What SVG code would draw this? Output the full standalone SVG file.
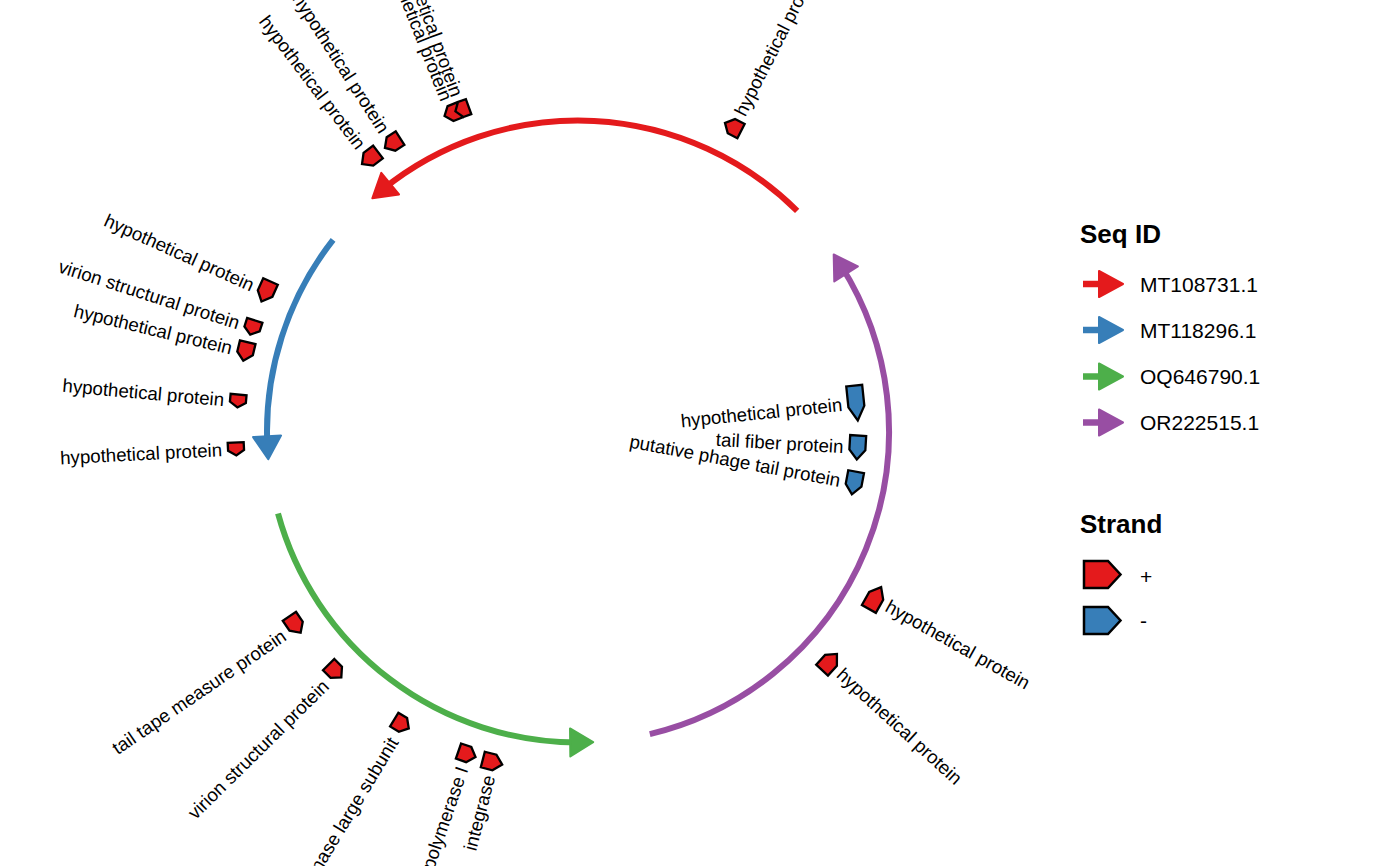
<svg xmlns="http://www.w3.org/2000/svg" width="1400" height="866" viewBox="0 0 1400 866">
<style>
.lbl{font-family:"Liberation Sans",Arial,sans-serif;font-size:18.7px;fill:#000;dominant-baseline:central}
.end{text-anchor:end}
.plus{fill:#E41A1C;stroke:#000;stroke-width:2.3;stroke-linejoin:miter}
.minus{fill:#377EB8;stroke:#000;stroke-width:2.3;stroke-linejoin:miter}
.arc{fill:none;stroke-width:6;stroke-linecap:butt}
.lt{font-family:"Liberation Sans",Arial,sans-serif;font-size:21px;fill:#000}
.ttl{font-family:"Liberation Sans",Arial,sans-serif;font-size:26px;font-weight:bold;fill:#000}
</style>
<rect width="1400" height="866" fill="#fff"/>
<g id="connectors">
  <g id="seq-MT108731">
    <path class="arc" stroke="#E41A1C" d="M797.14,210.82 A311,311 0 0 0 382.70,189.47"/>
    <polygon points="372.33,198.22 399.03,194.46 381.29,172.80" fill="#E41A1C" stroke="#E41A1C" stroke-width="2" stroke-linejoin="round"/>
  </g>
  <g id="seq-MT118296">
    <path class="arc" stroke="#377EB8" d="M333.10,239.82 A311,311 0 0 0 267.32,445.61"/>
    <polygon points="268.25,459.31 281.02,435.59 253.06,437.07" fill="#377EB8" stroke="#377EB8" stroke-width="2" stroke-linejoin="round"/>
  </g>
  <g id="seq-OQ646790">
    <path class="arc" stroke="#4DAF4A" d="M278.02,513.56 A311,311 0 0 0 579.63,742.50"/>
    <polygon points="593.19,742.13 570.34,756.40 570.02,728.40" fill="#4DAF4A" stroke="#4DAF4A" stroke-width="2" stroke-linejoin="round"/>
  </g>
  <g id="seq-OR222515">
    <path class="arc" stroke="#984EA3" d="M649.81,734.10 A311,311 0 0 0 841.17,265.77"/>
    <polygon points="833.69,254.45 857.88,266.30 834.28,281.38" fill="#984EA3" stroke="#984EA3" stroke-width="2" stroke-linejoin="round"/>
  </g>
</g>
<g id="features">
  <g id="f1"><polygon class="plus" transform="translate(370,158) rotate(142.75)" points="-10,-8 2,-8 10,0 2,8 -10,8"/><text class="lbl end" transform="translate(361.5,146.9) rotate(52.75)">hypothetical protein</text></g>
  <g id="f2"><polygon class="plus" transform="translate(392.5,143) rotate(147.26)" points="-9,-8 1.8,-8 9,0 1.8,8 -9,8"/><text class="lbl end" transform="translate(384.9,131.2) rotate(57.26)">hypothetical protein</text></g>
  <g id="f3a"><polygon class="plus" transform="translate(452,113) rotate(158.4)" points="-8,-8 1.6,-8 8,0 1.6,8 -8,8"/><text class="lbl end" transform="translate(446.8,100) rotate(68.4)">hypothetical protein</text></g>
  <g id="f3b"><polygon class="plus" transform="translate(462,109) rotate(160.2)" points="-7,-8 1.4,-8 7,0 1.4,8 -7,8"/><text class="lbl end" transform="translate(457.3,95.8) rotate(70.2)">hypothetical protein</text></g>
  <g id="f4"><polygon class="plus" transform="translate(733,127) rotate(-153)" points="-9,-8 1.8,-8 9,0 1.8,8 -9,8"/><text class="lbl" transform="translate(739.4,114.5) rotate(-63)">hypothetical protein</text></g>
  <g id="f5"><polygon class="plus" transform="translate(266,291.5) rotate(114.2)" points="-11,-8 2.2,-8 11,0 2.2,8 -11,8"/><text class="lbl end" transform="translate(253.2,285.8) rotate(24.2)">hypothetical protein</text></g>
  <g id="f6"><polygon class="plus" transform="translate(252.5,327.5) rotate(107.7)" points="-7.5,-8 1.5,-8 7.5,0 1.5,8 -7.5,8"/><text class="lbl end" transform="translate(239.2,323.2) rotate(17.7)">virion structural protein</text></g>
  <g id="f7"><polygon class="plus" transform="translate(245.5,351.5) rotate(103.5)" points="-9.5,-8 1.9,-8 9.5,0 1.9,8 -9.5,8"/><text class="lbl end" transform="translate(231.9,348.2) rotate(13.5)">hypothetical protein</text></g>
  <g id="f8"><polygon class="plus" transform="translate(238,401) rotate(95.1)" points="-6.5,-8 1.3,-8 6.5,0 1.3,8 -6.5,8"/><text class="lbl end" transform="translate(224.1,399.8) rotate(5.1)">hypothetical protein</text></g>
  <g id="f9"><polygon class="plus" transform="translate(236,449) rotate(87.1)" points="-6.5,-8 1.3,-8 6.5,0 1.3,8 -6.5,8"/><text class="lbl end" transform="translate(222,449.7) rotate(-2.9)">hypothetical protein</text></g>
  <g id="f10"><polygon class="plus" transform="translate(295,624.5) rotate(55.7)" points="-10,-8 2,-8 10,0 2,8 -10,8"/><text class="lbl end" transform="translate(284,634) rotate(-34.3)">tail tape measure protein</text></g>
  <g id="f11"><polygon class="plus" transform="translate(335,671) rotate(45.4)" points="-9,-8 1.8,-8 9,0 1.8,8 -9,8"/><text class="lbl end" transform="translate(325.5,683) rotate(-44.6)">virion structural protein</text></g>
  <g id="f12"><polygon class="plus" transform="translate(401.5,724) rotate(31.1)" points="-8.5,-8 1.7,-8 8.5,0 1.7,8 -8.5,8"/><text class="lbl end" transform="translate(393.5,739) rotate(-58.9)">terminase large subunit</text></g>
  <g id="f13"><polygon class="plus" transform="translate(467,754) rotate(19)" points="-9,-8 1.8,-8 9,0 1.8,8 -9,8"/><text class="lbl end" transform="translate(462.4,767.2) rotate(-71)">DNA polymerase I</text></g>
  <g id="f14"><polygon class="plus" transform="translate(492.5,762) rotate(14.5)" points="-10,-8 2,-8 10,0 2,8 -10,8"/><text class="lbl end" transform="translate(489,775.6) rotate(-75.5)">integrase</text></g>
  <g id="f15"><polygon class="minus" transform="translate(856,403) rotate(84.15)" points="-17.5,-8 3.5,-8 17.5,0 3.5,8 -17.5,8"/><text class="lbl end" transform="translate(842.1,404.4) rotate(-5.85)">hypothetical protein</text></g>
  <g id="f16"><polygon class="minus" transform="translate(857.5,447.5) rotate(93.3)" points="-12,-8 2.4,-8 12,0 2.4,8 -12,8"/><text class="lbl end" transform="translate(843.5,446.7) rotate(3.3)">tail fiber protein</text></g>
  <g id="f17"><polygon class="minus" transform="translate(854,483) rotate(100.6)" points="-11.5,-8 2.3,-8 11.5,0 2.3,8 -11.5,8"/><text class="lbl end" transform="translate(840.2,480.4) rotate(10.6)">putative phage tail protein</text></g>
  <g id="f18"><polygon class="plus" transform="translate(875,598) rotate(-60.7)" points="-12.5,-8 2.5,-8 12.5,0 2.5,8 -12.5,8"/><text class="lbl" transform="translate(887.2,604.9) rotate(29.3)">hypothetical protein</text></g>
  <g id="f19"><polygon class="plus" transform="translate(829.5,662) rotate(-47.5)" points="-11,-8 2.2,-8 11,0 2.2,8 -11,8"/><text class="lbl" transform="translate(839.8,671.5) rotate(42.5)">hypothetical protein</text></g>
</g>
<g id="legend-seqid">
  <text class="ttl" x="1080" y="243">Seq ID</text>
  <g id="key-MT108731">
    <line x1="1083" y1="284" x2="1101" y2="284" stroke="#E41A1C" stroke-width="6.5"/>
    <polygon points="1099,271 1123,284 1099,297" fill="#E41A1C" stroke="#E41A1C" stroke-width="2" stroke-linejoin="round"/>
    <text class="lt" x="1140" y="292">MT108731.1</text>
  </g>
  <g id="key-MT118296">
    <line x1="1083" y1="330" x2="1101" y2="330" stroke="#377EB8" stroke-width="6.5"/>
    <polygon points="1099,317 1123,330 1099,343" fill="#377EB8" stroke="#377EB8" stroke-width="2" stroke-linejoin="round"/>
    <text class="lt" x="1140" y="338">MT118296.1</text>
  </g>
  <g id="key-OQ646790">
    <line x1="1083" y1="376.5" x2="1101" y2="376.5" stroke="#4DAF4A" stroke-width="6.5"/>
    <polygon points="1099,363.5 1123,376.5 1099,389.5" fill="#4DAF4A" stroke="#4DAF4A" stroke-width="2" stroke-linejoin="round"/>
    <text class="lt" x="1140" y="384">OQ646790.1</text>
  </g>
  <g id="key-OR222515">
    <line x1="1083" y1="422.5" x2="1101" y2="422.5" stroke="#984EA3" stroke-width="6.5"/>
    <polygon points="1099,409.5 1123,422.5 1099,435.5" fill="#984EA3" stroke="#984EA3" stroke-width="2" stroke-linejoin="round"/>
    <text class="lt" x="1140" y="430">OR222515.1</text>
  </g>
</g>
<g id="legend-strand">
  <text class="ttl" x="1080" y="533">Strand</text>
  <g id="key-plus">
    <polygon points="1084,561 1108,561 1120.5,574.5 1108,588 1084,588" fill="#E41A1C" stroke="#000" stroke-width="2.5"/>
    <text class="lt" x="1140" y="583.5">+</text>
  </g>
  <g id="key-minus">
    <polygon points="1084,607 1108,607 1120.5,620.5 1108,634 1084,634" fill="#377EB8" stroke="#000" stroke-width="2.5"/>
    <text class="lt" x="1140" y="627.5">-</text>
  </g>
</g>
</svg>
